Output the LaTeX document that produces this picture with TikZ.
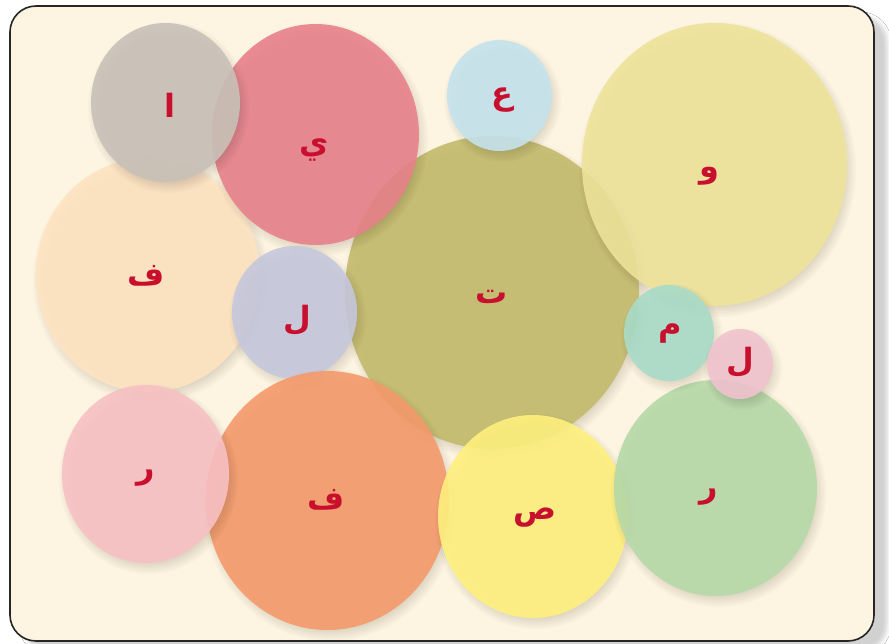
\documentclass[tikz,border=0pt]{standalone}
\usepackage{fontspec}
\newfontfamily\arabicfont[Script=Arabic]{DejaVu Sans}
\TeXXeTstate=1
\usepackage{xcolor}
\usetikzlibrary{shapes.geometric, shadows.blur}

\definecolor{cream}{HTML}{FDF5E1}
\definecolor{inkred}{HTML}{C8102E}
\definecolor{cGray}{HTML}{C9C1B8}
\definecolor{cRed}{HTML}{E8818A}
\definecolor{cSky}{HTML}{C5E3EE}
\definecolor{cSand}{HTML}{EEE39A}
\definecolor{cPeach}{HTML}{FEE4C2}
\definecolor{cLilac}{HTML}{C6C8DD}
\definecolor{cOlive}{HTML}{C3BB6C}
\definecolor{cTeal}{HTML}{A9DCC8}
\definecolor{cRose}{HTML}{F1C3CF}
\definecolor{cPink}{HTML}{F8C1C4}
\definecolor{cOrange}{HTML}{F59A6B}
\definecolor{cLemon}{HTML}{FFF17E}
\definecolor{cGreen}{HTML}{B6DAA8}

\begin{document}
\begin{tikzpicture}[
  x=1pt, y=-1pt,
  frame/.style={draw=black!85, line width=1.6pt, fill=cream, rounded corners=26pt,
                blur shadow={shadow xshift=13pt, shadow yshift=-10pt, shadow blur radius=4pt,
                             shadow opacity=18}},
  blob/.style={ellipse, inner sep=0pt, fill opacity=0.9},
  halo/.style={black, opacity=0.02},
  letter/.style={font=\arabicfont\bfseries\fontsize{32}{36}\selectfont, text=inkred, inner sep=0pt}
]
\useasboundingbox (0,0) rectangle (889,644);
\fill[white] (0,0) rectangle (889,644);
\node[frame, minimum width=864pt, minimum height=635pt] (box) at (442,323.5) {};

% circles, bottom one first: name/colour/x/y/rx/ry
\foreach \nm/\col/\cx/\cy/\rx/\ry in {
    ta/cOlive/492/292.5/147/156.5,
    waw/cSand/714.5/164.5/132.5/141.5,
    fa1/cPeach/148/275/112/117,
    ya/cRed/315.5/134.5/103.5/110.5,
    alif/cGray/165.5/102.5/74.5/79.5,
    ain/cSky/499.5/95.5/52.5/55.5,
    lam1/cLilac/294.5/312.5/62.5/66.5,
    fa2/cOrange/327.5/500.5/121.5/129.5,
    ra1/cPink/145.5/474/83.5/89,
    sad/cLemon/533/516.5/95/101.5,
    ra2/cGreen/715.5/488/101.5/108,
    mim/cTeal/669/333/45/48,
    lam2/cRose/740/364/33/35} {
  \foreach \k in {0,...,6}
    \fill[halo] (\cx+3,\cy+5) ellipse ({\rx+6-2*\k} and {\ry+6-2*\k});
  \node[blob, fill=\col, minimum width={2*\rx pt}, minimum height={2*\ry pt}] (\nm) at (\cx,\cy) {};
}

% letters
\node[letter] (t-alif) at (170,105) {\beginR ا\endR};
\node[letter] (t-ya) at (314,150) {\beginR ي\endR};
\node[letter] (t-ain) at (502,100) {\beginR ع\endR};
\node[letter] (t-waw) at (709,176) {\beginR و\endR};
\node[letter] (t-fa1) at (146,276) {\beginR ف\endR};
\node[letter] (t-lam1) at (297,320) {\beginR ل\endR};
\node[letter] (t-ta) at (492,297) {\beginR ت\endR};
\node[letter] (t-mim) at (670,334) {\beginR م\endR};
\node[letter] (t-lam2) at (740,362) {\beginR ل\endR};
\node[letter] (t-ra1) at (146,478) {\beginR ر\endR};
\node[letter] (t-fa2) at (326,500) {\beginR ف\endR};
\node[letter] (t-sad) at (535,518) {\beginR ص\endR};
\node[letter] (t-ra2) at (709,497) {\beginR ر\endR};
\end{tikzpicture}
\end{document}
